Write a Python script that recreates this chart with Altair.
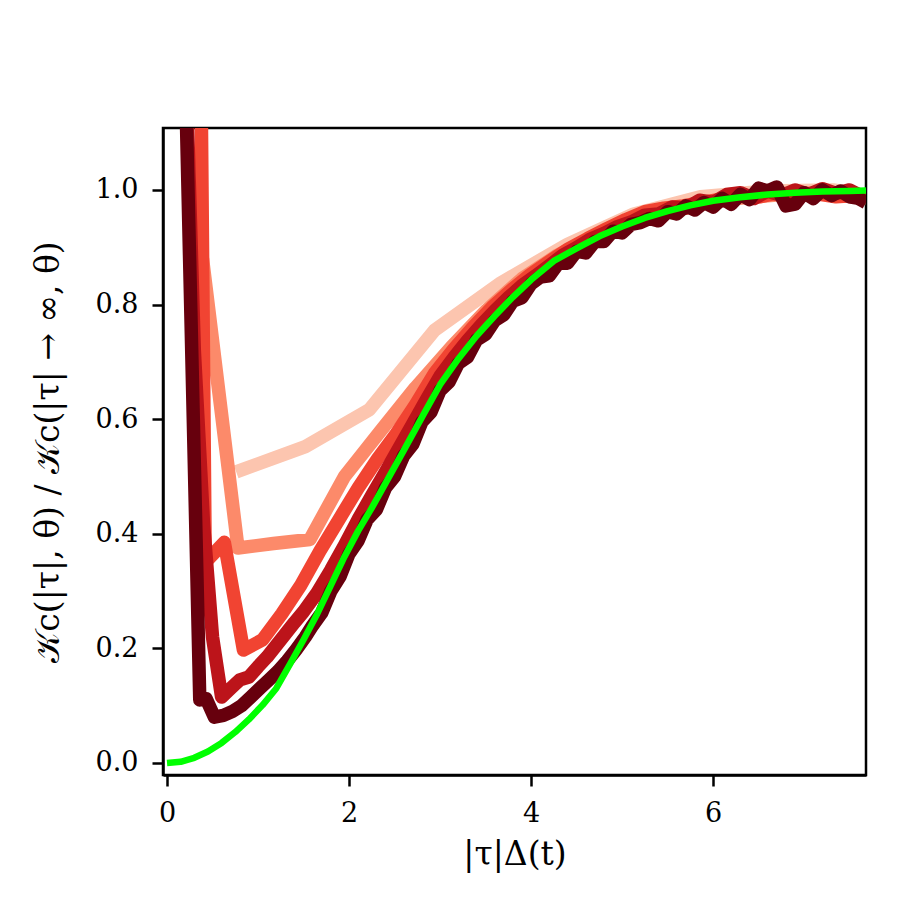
import altair as alt
import pandas as pd

# ---- data ----
pale_x = [0.76, 1.52, 2.22, 2.94, 3.67, 4.40, 5.13, 5.86, 6.59, 7.32, 7.68]
pale_y = [0.508, 0.552, 0.616, 0.755, 0.838, 0.905, 0.958, 0.988, 0.998, 1.0, 0.99]

salmon_x = [0.39, 0.78, 1.17, 1.57, 1.95, 2.34, 2.73, 3.12, 3.51, 3.90, 4.29, 4.68,
            5.07, 5.46, 5.85, 6.24, 6.63, 7.02, 7.41, 7.68]
salmon_y = [0.88, 0.375, 0.383, 0.39, 0.50, 0.578, 0.655, 0.725, 0.79, 0.845, 0.886,
            0.918, 0.945, 0.965, 0.975, 0.985, 0.99, 0.995, 0.99, 0.985]

red_x = [0.21, 0.42, 0.63, 0.84, 1.05, 1.26, 1.47, 1.68, 1.89, 2.10, 2.31, 2.52, 2.73,
         2.94, 3.15, 3.36, 3.57, 3.78, 3.99, 4.20, 4.41, 4.62, 4.83, 5.04, 5.25, 5.46,
         5.67, 5.88, 6.09, 6.30, 6.51, 6.72, 6.93, 7.14, 7.35, 7.56, 7.68]
red_y = [4.2, 0.35, 0.385, 0.197, 0.215, 0.26, 0.31, 0.37, 0.425, 0.48, 0.53, 0.575,
         0.625, 0.68, 0.722, 0.76, 0.795, 0.825, 0.852, 0.875, 0.897, 0.915, 0.932,
         0.948, 0.962, 0.968, 0.972, 0.978, 0.984, 0.99, 0.988, 0.995, 0.99, 0.993,
         0.988, 0.99, 0.985]

darkred_x = [0.1, 0.2, 0.3, 0.4, 0.5, 0.6, 0.7, 0.8, 0.9, 1.0, 1.1, 1.2, 1.3, 1.4, 1.5,
             1.65, 1.8, 1.95, 2.1, 2.25, 2.4, 2.55, 2.7, 2.85, 3.0, 3.15, 3.3, 3.45,
             3.6, 3.75, 3.9, 4.05, 4.2, 4.35, 4.5, 4.65, 4.8, 4.95, 5.1, 5.25, 5.4,
             5.55, 5.7, 5.85, 6.0, 6.15, 6.3, 6.45, 6.6, 6.75, 6.9, 7.05, 7.2, 7.35,
             7.5, 7.68]
darkred_y = [2.0, 1.25, 0.72, 0.42, 0.22, 0.115, 0.13, 0.145, 0.15, 0.168, 0.185, 0.205,
             0.225, 0.245, 0.264, 0.297, 0.337, 0.38, 0.425, 0.467, 0.508, 0.55, 0.592,
             0.634, 0.675, 0.707, 0.737, 0.764, 0.789, 0.812, 0.833, 0.85, 0.868,
             0.886, 0.899, 0.914, 0.924, 0.936, 0.944, 0.956, 0.958, 0.97, 0.968,
             0.982, 0.978, 0.992, 0.995, 0.985, 0.998, 0.99, 1.0, 0.992, 1.002,
             0.994, 1.0, 0.985]

darkest_x = [0.1, 0.36, 0.43, 0.52, 0.62, 0.72, 0.82, 0.92, 1.02, 1.12, 1.22, 1.32,
             1.42, 1.52, 1.6, 1.7, 1.8, 1.9, 2.0, 2.1, 2.2, 2.3, 2.4, 2.5, 2.6, 2.7,
             2.8, 2.9, 3.0, 3.1, 3.2, 3.3, 3.4, 3.5, 3.6, 3.7, 3.8, 3.9, 4.0, 4.1,
             4.2, 4.3, 4.4, 4.5, 4.6, 4.7, 4.8, 4.9, 5.0, 5.1, 5.2, 5.3, 5.4, 5.5,
             5.6, 5.7, 5.8, 5.9, 6.0, 6.1, 6.2, 6.3, 6.4, 6.5, 6.6, 6.7, 6.8, 6.9,
             7.0, 7.1, 7.2, 7.3, 7.4, 7.5, 7.6, 7.68]
darkest_y = [1.9, 0.11, 0.112, 0.08, 0.083, 0.09, 0.1, 0.115, 0.13, 0.145, 0.16, 0.178,
             0.198, 0.22, 0.24, 0.262, 0.3, 0.325, 0.365, 0.388, 0.425, 0.442, 0.48,
             0.5, 0.536, 0.556, 0.595, 0.612, 0.65, 0.665, 0.697, 0.708, 0.738, 0.748,
             0.772, 0.782, 0.806, 0.812, 0.836, 0.848, 0.85, 0.872, 0.872, 0.893,
             0.89, 0.91, 0.91, 0.928, 0.925, 0.94, 0.943, 0.95, 0.946, 0.962, 0.958,
             0.972, 0.965, 0.978, 0.97, 0.985, 0.975, 0.992, 0.983, 1.003, 0.998,
             1.005, 0.972, 0.975, 0.995, 0.985, 1.0, 0.99, 0.998, 0.988, 0.985, 0.978]

green_x = [0, 0.15, 0.3, 0.45, 0.6, 0.75, 0.9, 1.05, 1.2, 1.35, 1.5, 1.65, 1.8, 1.95,
           2.1, 2.25, 2.4, 2.6, 2.8, 3.0, 3.2, 3.4, 3.6, 3.8, 4.0, 4.25, 4.5, 4.75,
           5.0, 5.25, 5.5, 5.75, 6.0, 6.3, 6.6, 6.9, 7.2, 7.5, 7.68]
green_y = [0, 0.002, 0.009, 0.02, 0.035, 0.054, 0.076, 0.101, 0.13, 0.172, 0.215, 0.26,
           0.31, 0.36, 0.405, 0.445, 0.488, 0.545, 0.603, 0.66, 0.705, 0.745, 0.78,
           0.813, 0.843, 0.876, 0.898, 0.919, 0.936, 0.951, 0.963, 0.973, 0.981,
           0.987, 0.992, 0.995, 0.997, 0.998, 0.999]

y_ticks = [0.0, 0.2, 0.4, 0.6, 0.8, 1.0]
x_ticks = [0, 2, 4, 6]

series = [
    ("pale", pale_x, pale_y, "#fcc5af", 13.5),
    ("salmon", salmon_x, salmon_y, "#fc8a6a", 13.5),
    ("red", red_x, red_y, "#f14432", 13.5),
    ("darkred", darkred_x, darkred_y, "#bc141a", 13.5),
    ("darkest", darkest_x, darkest_y, "#67000d", 13.5),
    ("theory", green_x, green_y, "#00ff00", 6.5),
]

FONT = "DejaVu Serif"
x_scale = alt.Scale(domain=[-0.044, 7.68], nice=False, zero=False)
y_scale = alt.Scale(domain=[-0.021, 1.108], nice=False, zero=False)

x_axis = alt.Axis(values=x_ticks, format="d", title="|τ|Δ(t)", grid=False,
                  tickSize=11, tickWidth=2.5, tickColor="black",
                  domainColor="black", domainWidth=2.5,
                  labelFont=FONT, labelFontSize=27, labelColor="black",
                  labelPadding=14, titleFont=FONT, titleFontSize=33,
                  titleFontWeight="normal", titleColor="black", titlePadding=12,
                  zindex=1)
y_axis = alt.Axis(values=y_ticks, format=".1f",
                  title="𝒦c(|τ|, θ) / 𝒦c(|τ| → ∞, θ)", grid=False,
                  tickSize=11, tickWidth=2.5, tickColor="black",
                  domainColor="black", domainWidth=2.5,
                  labelFont=FONT, labelFontSize=27, labelColor="black",
                  labelPadding=14, titleFont=FONT, titleFontSize=33,
                  titleFontWeight="normal", titleColor="black", titlePadding=30,
                  zindex=1)

layers = []
for name, xs, ys, color, w in series:
    df = pd.DataFrame({"x": xs, "y": ys, "series": name})
    layer = alt.Chart(df).mark_line(
        color=color, strokeWidth=w, clip=True,
        strokeJoin="round", strokeCap="butt"
    ).encode(
        x=alt.X("x:Q", scale=x_scale, axis=x_axis),
        y=alt.Y("y:Q", scale=y_scale, axis=y_axis),
        order="x:Q",
    )
    layers.append(layer)

chart = alt.layer(*layers).properties(
    width=703, height=647,
    padding={"left": 155, "top": 120, "right": 39, "bottom": 130},
    autosize=alt.AutoSizeParams(type="none"),
    background="white",
).configure_view(stroke="black", strokeWidth=2.5)

chart.save("out.html", embed_options={"renderer": "svg", "actions": False})
